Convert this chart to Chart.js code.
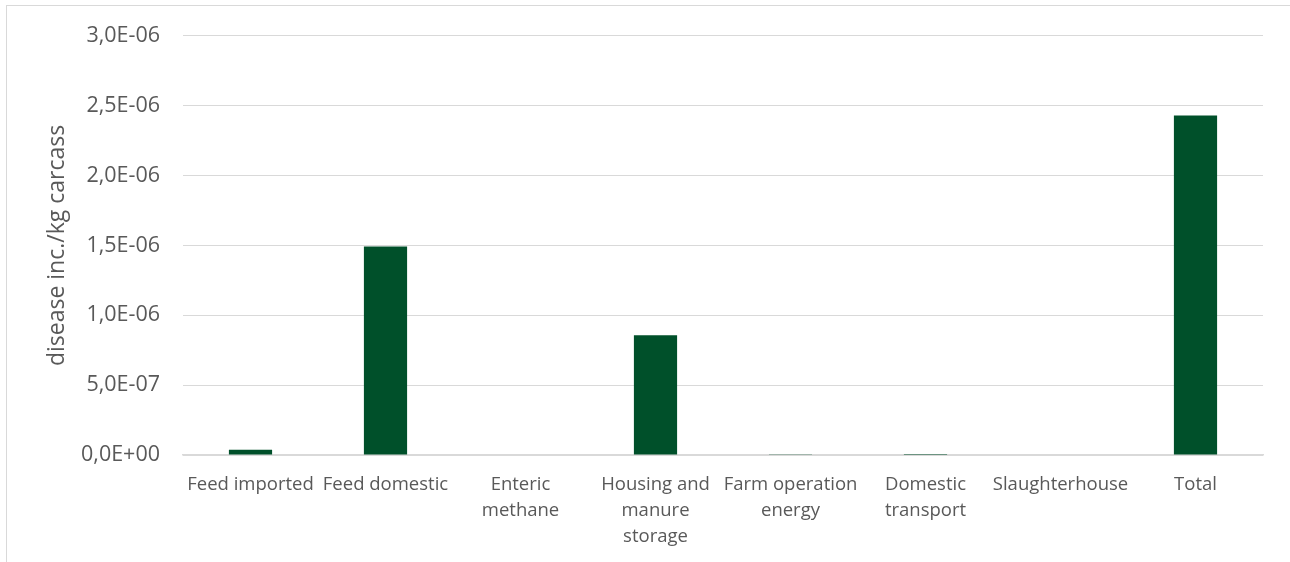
<!DOCTYPE html>
<html>
<head>
<meta charset="utf-8">
<script src="https://cdn.jsdelivr.net/npm/chart.js@4/dist/chart.umd.min.js"></script>
<style>
    html, body { margin: 0; padding: 0; background: #fff; }
    #wrap { position: relative; width: 1290px; height: 562px; overflow: hidden; }
    #frame { position: absolute; left: 6px; top: 5px; width: 1400px; height: 700px; border: 1px solid #d9d9d9; box-sizing: border-box; }
    #chart { position: absolute; left: 0; top: 0; }
</style>
</head>
<body>
<div id="wrap">
    <div id="frame"></div>
    <canvas id="chart" width="1290" height="562"></canvas>
</div>
<script>
// chart data
const categories = [
    'Feed imported',
    'Feed domestic',
    ['Enteric', 'methane'],
    ['Housing and', 'manure', 'storage'],
    ['Farm operation', 'energy'],
    ['Domestic', 'transport'],
    'Slaughterhouse',
    'Total'
];
const values = [3.8e-8, 1.493e-6, 0, 8.57e-7, 2e-9, 7e-9, 0, 2.43e-6];
const yTicks = [0, 5e-7, 1e-6, 1.5e-6, 2e-6, 2.5e-6, 3e-6];
const yTitle = 'disease inc./kg carcass';

const textColor = '#595959';
const gridColor = '#d9d9d9';
const fontFamily = '"Open Sans", "Segoe UI", sans-serif';

// 3e-6 -> "3,0E-06"
function formatSci(v) {
    const parts = Number(v).toExponential(1).split('e');
    const mant = parts[0].replace('.', ',');
    let exp = parseInt(parts[1], 10);
    const sign = exp < 0 ? '-' : '+';
    exp = Math.abs(exp);
    return mant + 'E' + sign + (exp < 10 ? '0' + exp : exp);
}

new Chart(document.getElementById('chart'), {
    type: 'bar',
    data: {
        labels: categories,
        datasets: [{
            data: values,
            backgroundColor: '#00502a',
            borderWidth: 0,
            categoryPercentage: 1,
            barPercentage: 0.32
        }]
    },
    options: {
        responsive: false,
        animation: false,
        layout: { padding: { left: 0, right: 27, top: 35, bottom: 0 } },
        plugins: {
            legend: { display: false },
            tooltip: { enabled: false }
        },
        scales: {
            x: {
                grid: { display: false, drawTicks: false },
                border: { color: gridColor, width: 1.5 },
                ticks: {
                    color: textColor,
                    font: { family: fontFamily, size: 18.5, lineHeight: 1.4 },
                    padding: 17,
                    maxRotation: 0,
                    autoSkip: false
                },
                afterFit: (scale) => { scale.height = 107; }
            },
            y: {
                min: 0,
                max: 3e-6,
                afterBuildTicks: (scale) => {
                    scale.ticks = yTicks.map(v => ({ value: v }));
                },
                grid: { color: gridColor, drawTicks: false },
                border: { display: false },
                ticks: {
                    color: textColor,
                    font: { family: fontFamily, size: 21.5 },
                    padding: 23,
                    callback: (v) => formatSci(v)
                },
                title: {
                    display: true,
                    text: yTitle,
                    color: textColor,
                    font: { family: fontFamily, size: 23 },
                    padding: { top: 44, bottom: 0 }
                },
                afterFit: (scale) => { scale.width = 183; }
            }
        }
    }
});
</script>
</body>
</html>
